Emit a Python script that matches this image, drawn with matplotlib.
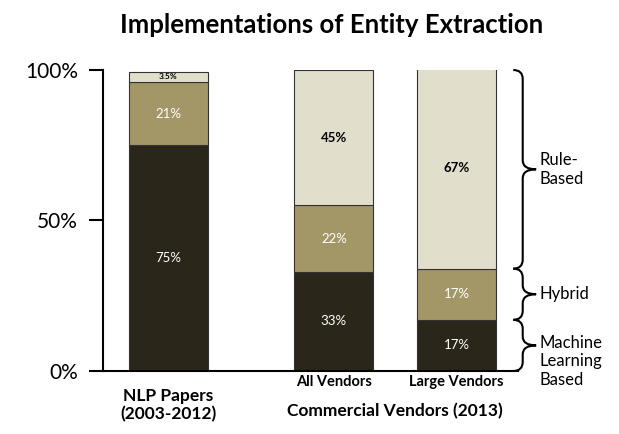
import matplotlib
matplotlib.use("Agg")
from matplotlib import pyplot as plt
from matplotlib.path import Path
from matplotlib.patches import PathPatch
from matplotlib.transforms import blended_transform_factory

import numpy as np

# data
groups = ["NLP Papers\n(2003-2012)", "All Vendors", "Large Vendors"]
machine_learning = [75, 33, 17]
hybrid = [21, 22, 17]
rule_based = [3.5, 45, 67]
segment_labels = ["Machine\nLearning\nBased", "Hybrid", "Rule-\nBased"]
group_title = "Commercial Vendors (2013)"

plt.rcParams['font.family'] = ['Lato', 'DejaVu Sans']

fig = plt.figure(figsize=(6.19, 4.34), dpi=100)
ax = fig.add_axes([0.1664, 0.1452, 0.6704, 0.6935])

x = np.array([0, 2.1, 3.65])
dark, tan, light = "#2a2619", "#a39767", "#e1dfcc"

ml = np.array(machine_learning, dtype=float)
hy = np.array(hybrid, dtype=float)
rb = np.array(rule_based, dtype=float)

ax.bar(x, ml, width=1, color=dark, edgecolor="#333333", linewidth=0.8)
ax.bar(x, hy, width=1, bottom=ml, color=tan, edgecolor="#333333", linewidth=0.8)
ax.bar(x, rb, width=1, bottom=ml + hy, color=light, edgecolor="#333333", linewidth=0.8)

# value labels in the middle of each segment
for i in range(len(x)):
    ax.text(x[i], ml[i] / 2, "%d%%" % ml[i], ha="center", va="center",
            color="white", fontsize=9.5)
    ax.text(x[i], ml[i] + hy[i] / 2, "%d%%" % hy[i], ha="center", va="center",
            color="white", fontsize=9.5)
    if rb[i] < 10:
        ax.text(x[i], ml[i] + hy[i] + rb[i] / 2, "%g%%" % rb[i], ha="center",
                va="center", color="black", fontsize=6, fontweight="bold")
    else:
        ax.text(x[i], ml[i] + hy[i] + rb[i] / 2, "%g%%" % rb[i], ha="center",
                va="center", color="black", fontsize=9.5, fontweight="bold")

ax.set_xlim(-0.823, 4.43)
ax.set_ylim(0, 100)
ax.set_yticks([0, 50, 100])
ax.set_yticklabels(["0%", "50%", "100%"], fontsize=15)
ax.set_xticks([])
ax.tick_params(axis="y", direction="out", length=10, width=1.5, pad=8)
for s in ["top", "right"]:
    ax.spines[s].set_visible(False)
for s in ["left", "bottom"]:
    ax.spines[s].set_linewidth(1.5)

# category labels under the bars
trans = blended_transform_factory(ax.transData, ax.transAxes)
ax.text(x[0], -0.055, groups[0], transform=trans, ha="center", va="top",
        fontsize=12.5, fontweight="bold", linespacing=1.2)
for i in [1, 2]:
    ax.text(x[i], -0.012, groups[i], transform=trans, ha="center", va="top",
            fontsize=10.5, fontweight="bold")
ax.text((x[1] + x[2]) / 2, -0.105, group_title, transform=trans, ha="center",
        va="top", fontsize=12.5, fontweight="bold")

fig.suptitle("Implementations of Entity Extraction", x=0.535, y=0.97,
             fontsize=18.5, fontweight="bold")


def brace(ax, y0, y1, x0=4.37, x1=4.49, x2=4.66, r=3.0):
    mid = (y0 + y1) / 2
    verts = [(x0, y1), (x1, y1), (x1, y1 - r),
             (x1, mid + r), (x1, mid), (x2, mid),
             (x2, mid), (x1, mid), (x1, mid - r),
             (x1, y0 + r), (x1, y0), (x0, y0)]
    codes = [Path.MOVETO, Path.CURVE3, Path.CURVE3,
             Path.LINETO, Path.CURVE3, Path.CURVE3,
             Path.MOVETO, Path.CURVE3, Path.CURVE3,
             Path.LINETO, Path.CURVE3, Path.CURVE3]
    p = PathPatch(Path(verts, codes), facecolor="none", edgecolor="black",
                  linewidth=1.5, clip_on=False)
    ax.add_patch(p)
    return mid


# brackets follow the large vendors bar
edges = [0, ml[2], ml[2] + hy[2], 100]
for k in range(3):
    mid = brace(ax, edges[k], edges[k + 1])
    if k == 0:
        ax.text(4.7, mid + 3.5, segment_labels[k], ha="left", va="top",
                fontsize=12, linespacing=1.2)
    else:
        ax.text(4.7, mid, segment_labels[k], ha="left", va="center",
                fontsize=12, linespacing=1.2)

fig.savefig("out.png", dpi=100)
